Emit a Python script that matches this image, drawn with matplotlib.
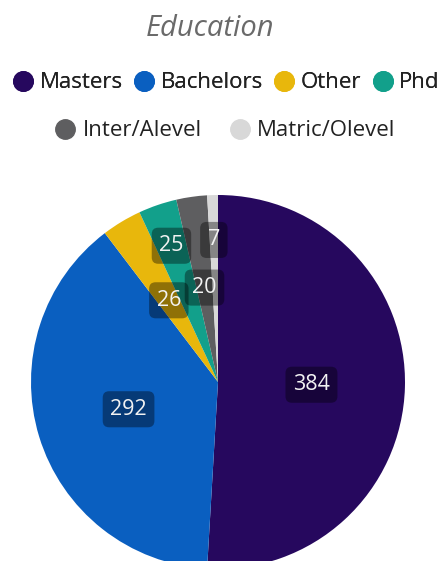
import matplotlib
matplotlib.use("Agg")
import matplotlib.pyplot as plt
from matplotlib.lines import Line2D
import numpy as np

plt.rcParams['font.family'] = ['Open Sans', 'DejaVu Sans']

# data
levels = ["Masters", "Bachelors", "Other", "Phd", "Inter/Alevel", "Matric/Olevel"]
counts = [384, 292, 26, 25, 20, 7]
colors = ["#26085E", "#0A5FC0", "#E8B70C", "#12A08B", "#5E5E60", "#D8D8D8"]
# how far out each value label sits (fraction of radius)
label_r = [0.5, 0.5, 0.51, 0.77, 0.51, 0.76]

W, H = 445, 561
fig = plt.figure(figsize=(W / 100, H / 100), dpi=100)
ax = fig.add_axes([0, 0, 1, 1])

wedges, _ = ax.pie(counts, colors=colors, startangle=90, counterclock=False,
                   radius=1, center=(0, 0))

# pixel placement of the pie: center (218, 382), radius 187
cx, cy, rad = 218, 382, 187
ax.set_xlim(-cx / rad, (W - cx) / rad)
ax.set_ylim(-(H - cy) / rad, cy / rad)
ax.set_aspect('auto')
ax.axis('off')

# value labels
total = sum(counts)
start = 0
for val, r in zip(counts, label_r):
    mid = (start + val / 2) / total * 2 * np.pi
    start += val
    x, y = r * np.sin(mid), r * np.cos(mid)
    ax.text(x, y, str(val), ha='center', va='center', color='#F2F2F2', fontsize=15.5,
            bbox=dict(boxstyle='round,pad=0.35,rounding_size=0.3', fc='black', ec='none', alpha=0.38))

fig.text(0.472, 1 - 29 / H, "Education", ha='center', va='center', fontsize=21,
         style='italic', color='#6A6A6A')

def handle(c):
    return Line2D([], [], marker='o', linestyle='none', markersize=14,
                  markerfacecolor=c, markeredgecolor=c)

leg1 = fig.legend([handle(c) for c in colors[:4]], levels[:4], loc='center',
                  bbox_to_anchor=(0.508, 1 - 83 / H), ncol=4, frameon=False,
                  fontsize=16, handletextpad=0.25, columnspacing=0.45, handlelength=1.0,
                  labelcolor='#222222')
fig.add_artist(leg1)
fig.legend([handle(c) for c in colors[4:]], levels[4:], loc='center',
           bbox_to_anchor=(0.505, 1 - 131 / H), ncol=2, frameon=False,
           fontsize=16, handletextpad=0.3, columnspacing=1.2, handlelength=1.0,
           labelcolor='#222222')

fig.savefig("out.png", dpi=100)
